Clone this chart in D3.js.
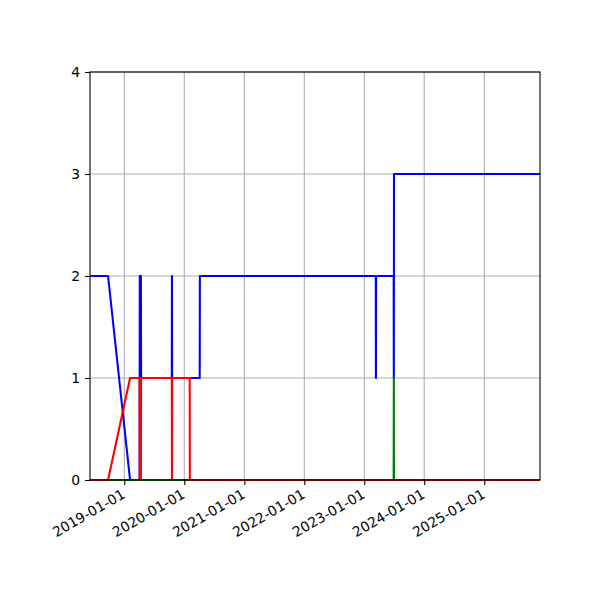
<!DOCTYPE html>
<head>
    <meta charset="utf-8">
    <script src="https://d3js.org/d3.v7.min.js"></script>
    <style>
        *{
            margin:0;
            padding:0;
        }
        body{
            background: #fff;
            font-family: 'DejaVu Sans', sans-serif;
        }
        text{
            font-size: 13.9px;
            fill: #000;
        }
    </style>
</head>

<body>
<svg id="chart"></svg>

<script>
    // the three series
    const blueDates = ["2018-06-06", "2018-09-24", "2019-02-05", "2019-04-04", "2019-04-05", "2019-04-12", "2019-04-13",
        "2019-10-17", "2019-10-18", "2019-10-19", "2020-04-04", "2020-04-05", "2023-03-12", "2023-03-13",
        "2023-03-14", "2023-06-29", "2023-06-30", "2023-07-01", "2025-12-06"];
    const blueValues = [2, 2, 0, 0, 2, 2, 1, 1, 2, 1, 1, 2, 2, 1, 2, 2, 1, 3, 3];

    const redDates = ["2018-06-06", "2018-09-24", "2019-02-05", "2019-04-04", "2019-04-05", "2019-04-12", "2019-04-13",
        "2019-10-17", "2019-10-18", "2019-10-19", "2020-02-03", "2020-02-04", "2025-12-06"];
    const redValues = [0, 0, 1, 1, 0, 0, 1, 1, 0, 1, 1, 0, 0];

    const greenDates = ["2018-09-24", "2023-06-29", "2023-06-30", "2023-07-01", "2025-12-06"];
    const greenValues = [0, 0, 1, 0, 0];

    const yTicks = [0, 1, 2, 3, 4];
    const xTicks = ["2019-01-01", "2020-01-01", "2021-01-01", "2022-01-01", "2023-01-01", "2024-01-01", "2025-01-01"];

    const parse = d3.timeParse("%Y-%m-%d");

    let svg = d3.select("#chart")
        .attr("width", 600)
        .attr("height", 600);

    const m = {left: 90, right: 540, top: 72, bottom: 480};

    const x = d3.scaleTime()
        .domain([parse("2018-06-06"), parse("2025-12-06")])
        .range([m.left, m.right]);
    const y = d3.scaleLinear()
        .domain([0, 4])
        .range([m.bottom, m.top]);

    // grid
    svg.append("g")
        .selectAll("line")
        .data(xTicks)
        .join("line")
        .attr("x1", d => x(parse(d)))
        .attr("x2", d => x(parse(d)))
        .attr("y1", m.top)
        .attr("y2", m.bottom)
        .attr("stroke", "#b0b0b0")
        .attr("stroke-width", 1.1);
    svg.append("g")
        .selectAll("line")
        .data(yTicks)
        .join("line")
        .attr("x1", m.left)
        .attr("x2", m.right)
        .attr("y1", d => y(d))
        .attr("y2", d => y(d))
        .attr("stroke", "#b0b0b0")
        .attr("stroke-width", 1.1);

    // lines
    const line = d3.line()
        .x(d => x(d[0]))
        .y(d => y(d[1]));

    let series = [
        [blueDates, blueValues, "#0000ff"],
        [greenDates, greenValues, "#008000"],
        [redDates, redValues, "#ff0000"]
    ];
    series.forEach(s => {
        let pts = s[0].map((d, i) => [parse(d), s[1][i]]);
        svg.append("path")
            .datum(pts)
            .attr("d", line)
            .attr("fill", "none")
            .attr("stroke", s[2])
            .attr("stroke-width", 2.08)
            .attr("stroke-linejoin", "round");
    });

    // axes
    const yAxis = svg.append("g")
        .attr("transform", `translate(${m.left},0)`)
        .call(d3.axisLeft(y).tickValues(yTicks).tickFormat(d3.format("d")).tickSize(4.9).tickPadding(4.9));
    yAxis.select(".domain").remove();

    const xAxis = svg.append("g")
        .attr("transform", `translate(0,${m.bottom})`)
        .call(d3.axisBottom(x).tickValues(xTicks.map(parse)).tickFormat(d3.timeFormat("%Y-%m-%d")).tickSize(4.9));
    xAxis.select(".domain").remove();
    xAxis.selectAll(".tick text")
        .attr("text-anchor", "end")
        .attr("x", 0)
        .attr("y", 0)
        .attr("dy", "0.75em")
        .attr("transform", "translate(-4,8) rotate(-30)");

    svg.selectAll(".tick line").attr("stroke", "#000").attr("stroke-width", 1.1);
    svg.selectAll(".tick text").style("font-family", "'DejaVu Sans'").style("font-size", "13.9px");

    // frame
    svg.append("rect")
        .attr("x", m.left)
        .attr("y", m.top)
        .attr("width", m.right - m.left)
        .attr("height", m.bottom - m.top)
        .attr("fill", "none")
        .attr("stroke", "#000")
        .attr("stroke-width", 1.1);
</script>
</body>
</html>
